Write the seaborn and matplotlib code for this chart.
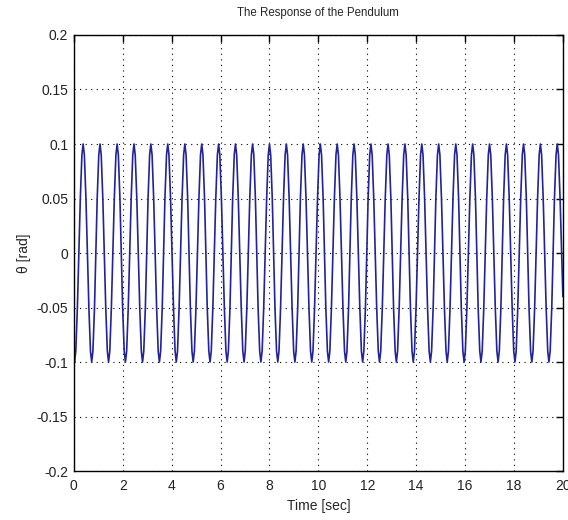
import numpy as np
import pandas as pd
import seaborn as sns
import matplotlib
matplotlib.use("Agg")
import matplotlib.pyplot as plt

# Times (s) of the troughs (-0.1 rad) and peaks (+0.1 rad)
trough_times = [0.03, 0.73, 1.42, 2.11, 2.81, 3.50, 4.19, 4.88, 5.57, 6.27,
                6.96, 7.65, 8.34, 9.04, 9.73, 10.42, 11.12, 11.81, 12.50, 13.19,
                13.88, 14.58, 15.27, 15.96, 16.65, 17.35, 18.04, 18.73, 19.43]
peak_times = [0.38, 1.07, 1.77, 2.46, 3.15, 3.84, 4.54, 5.23, 5.92, 6.61,
              7.31, 8.00, 8.69, 9.38, 10.08, 10.77, 11.46, 12.15, 12.85, 13.54,
              14.23, 14.92, 15.62, 16.31, 17.00, 17.69, 18.39, 19.08, 19.77]
amplitude = 0.1
# Shape of each tip: time offset from the tip (s)
# and the fraction of the amplitude reached there
tip_offsets = [-0.115, -0.05, 0.0, 0.05, 0.115]
tip_fractions = [0.5, 0.9, 1.0, 0.9, 0.5]
start_point = (0.0, -0.098)
end_point = (20.0, -0.04)

x_ticks = [0, 2, 4, 6, 8, 10, 12, 14, 16, 18, 20]
y_ticks = [-0.2, -0.15, -0.1, -0.05, 0, 0.05, 0.1, 0.15, 0.2]
y_tick_labels = ["-0.2", "-0.15", "-0.1", "-0.05", "0", "0.05", "0.1", "0.15", "0.2"]
x_tick_labels = ["0", "2", "4", "6", "8", "10", "12", "14", "16", "18", "20"]

# Build the table
rows = [start_point]
for sign, times in ((-1, trough_times), (1, peak_times)):
    for tc in times:
        for off, fr in zip(tip_offsets, tip_fractions):
            t = tc + off
            if 0.0 < t < 20.0:
                rows.append((t, sign * amplitude * fr))
rows.append(end_point)
df = pd.DataFrame(rows, columns=["t", "theta"]).sort_values("t").reset_index(drop=True)

sns.set_style("white")
plt.rcParams['font.family'] = ['Liberation Sans Narrow', 'Liberation Sans', 'DejaVu Sans']

fig = plt.figure(figsize=(5.68, 5.20), dpi=100)
ax = fig.add_axes([0.130, 0.0942, 0.861, 0.8385])

sns.lineplot(data=df, x="t", y="theta", ax=ax, estimator=None, sort=False,
             color="#22229a", linewidth=1.2)

ax.set_xlim(0, 20)
ax.set_ylim(-0.2, 0.2)
ax.set_xticks(x_ticks)
ax.set_xticklabels(x_tick_labels)
ax.set_yticks(y_ticks)
ax.set_yticklabels(y_tick_labels)
ax.grid(True, color="black", linestyle=(0, (1, 4)), linewidth=0.8)
ax.set_axisbelow(True)

ax.tick_params(direction="in", top=True, right=True, length=5, width=1,
               labelsize=10, color="black", labelcolor="#222222")
ax.tick_params(axis="x", pad=6)
ax.tick_params(axis="y", pad=4)
for s in ax.spines.values():
    s.set_visible(True)
    s.set_color("black")
    s.set_linewidth(1.0)

ax.set_xlabel("Time [sec]", fontsize=10, labelpad=4)
ax.set_ylabel("θ [rad]", fontsize=10, labelpad=4)
ax.set_title("The Response of the Pendulum", fontsize=8.3, pad=14)

fig.savefig("out.png", dpi=100)
